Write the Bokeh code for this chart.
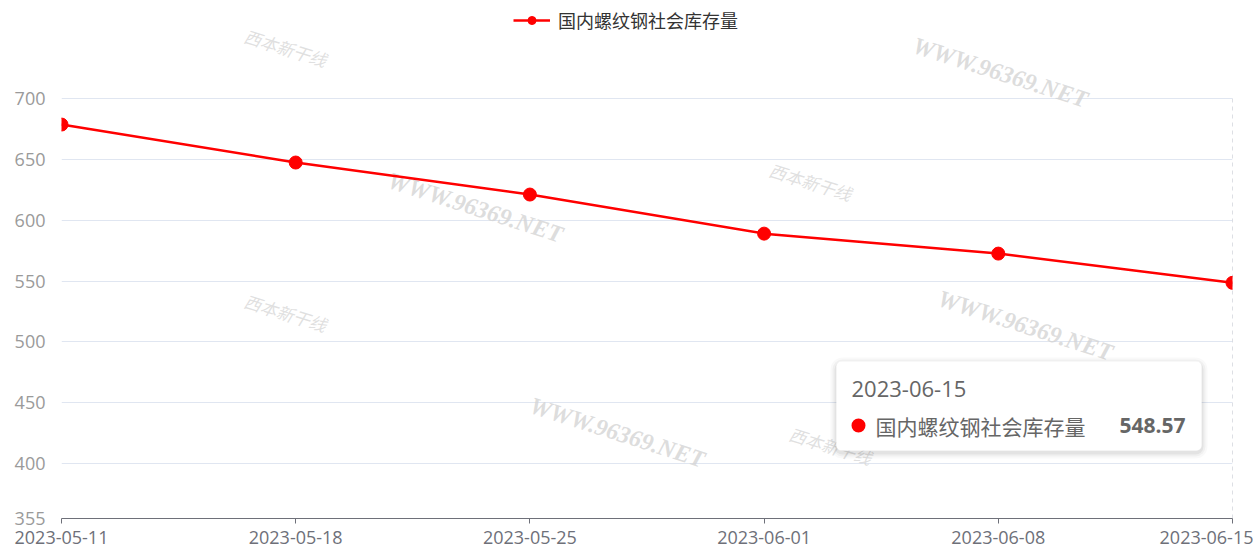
from bokeh.plotting import figure
from bokeh.models import (Range1d, FixedTicker, Legend, LegendItem,
                          BoxAnnotation, Label, ColumnDataSource)
from bokeh.embed import file_html
from bokeh.resources import INLINE

# ---- data ----
dates = ["2023-05-11", "2023-05-18", "2023-05-25", "2023-06-01", "2023-06-08", "2023-06-15"]
stock = [678.6, 647.4, 621.1, 589.0, 572.6, 548.57]
series_name = "国内螺纹钢社会库存量"
y_ticks = [355, 400, 450, 500, 550, 600, 650, 700]
tip_date = dates[-1]
tip_value = stock[-1]
watermark_url = "WWW.96369.NET"
watermark_logo = "西本新干线"

xs = list(range(len(dates)))
src = ColumnDataSource(dict(x=xs, y=stock))

# plot area: axis spans 420 px for the value span; frame extends to top of canvas
W, H = 1253, 557
grid_px = 420.0
ymin, ymax = y_ticks[0], y_ticks[-1]
bottom_border = 39
frame_h = H - bottom_border
y_end = ymin + frame_h * (ymax - ymin) / grid_px

p = figure(width=W, height=H, output_backend="svg", toolbar_location=None,
           x_range=Range1d(xs[0], xs[-1]), y_range=Range1d(ymin, y_end),
           min_border_left=61, min_border_right=21, min_border_top=0,
           min_border_bottom=bottom_border)
p.outline_line_color = None
p.background_fill_color = "white"
p.border_fill_color = "white"

# axes
xa = p.xaxis[0]
xa.ticker = FixedTicker(ticks=xs)
xa.major_label_overrides = {i: d for i, d in zip(xs, dates)}
xa.axis_line_color = "#6E7079"
xa.major_tick_line_color = "#6E7079"
xa.major_tick_out = 5
xa.major_tick_in = 0
xa.minor_tick_line_color = None
xa.major_label_text_font = "Open Sans"
xa.major_label_text_font_size = "18px"
xa.major_label_text_color = "#6E7079"
xa.major_label_standoff = 7

ya = p.yaxis[0]
ya.ticker = FixedTicker(ticks=y_ticks)
ya.axis_line_color = None
ya.major_tick_line_color = None
ya.minor_tick_line_color = None
ya.major_label_text_font = "Open Sans"
ya.major_label_text_font_size = "18px"
ya.major_label_text_color = "#9A9A9A"
ya.major_label_standoff = 10

p.xgrid.grid_line_color = None
p.ygrid.grid_line_color = "#E0E6F1"
p.ygrid.grid_line_width = 1

# watermarks (faint)
for (wx, wy) in [(939, 446), (414, 311), (964, 193), (556, 86)]:
    p.add_layout(Label(x=wx, y=wy, x_units="screen", y_units="screen", text=watermark_url,
                       text_font="Liberation Serif", text_font_style="bold italic",
                       text_font_size="24px", text_color="#D4D4D4", text_alpha=0.8,
                       text_align="center", text_baseline="middle", angle=-0.31,
                       level="underlay"))
for (wx, wy) in [(224, 471), (749, 337), (224, 206), (769, 73)]:
    p.add_layout(Label(x=wx, y=wy, x_units="screen", y_units="screen", text=watermark_logo,
                       text_font="Noto Sans CJK SC", text_font_style="italic",
                       text_font_size="17px", text_color="#D8D8D8", text_alpha=0.8,
                       text_align="center", text_baseline="middle", angle=-0.3,
                       level="underlay"))

# axis pointer (dashed vertical line at the hovered date)
p.segment(x0=[xs[-1]], y0=[ymin], x1=[xs[-1]], y1=[ymax], line_color="#BCC0CA",
          line_dash="4 4", line_width=1)

# series
ln = p.line("x", "y", source=src, line_color="#FF0000", line_width=2.5)
sc = p.scatter("x", "y", source=src, size=13, fill_color="#FF0000", line_color="#FF0000")

legend = Legend(items=[LegendItem(label=series_name, renderers=[ln, sc])],
                location=(452, 485), orientation="horizontal",
                padding=0, margin=0, spacing=0, glyph_width=37, glyph_height=20,
                label_height=20, label_standoff=8,
                label_text_font="Noto Sans CJK SC", label_text_font_size="18px",
                label_text_color="#333333", border_line_color=None,
                background_fill_alpha=0)
p.add_layout(legend, "center")

# tooltip box (static)
for i, a in enumerate([0.025, 0.035, 0.05]):
    d = 6 - 2 * i
    p.add_layout(BoxAnnotation(left=775 - d, right=1140 + d, top=157 + d - 2, bottom=68 - d - 2,
                               left_units="screen", right_units="screen",
                               top_units="screen", bottom_units="screen",
                               fill_color="black", fill_alpha=a, line_color=None,
                               border_radius=6 + d))
p.add_layout(BoxAnnotation(left=775, right=1140, top=157, bottom=68,
                           left_units="screen", right_units="screen",
                           top_units="screen", bottom_units="screen",
                           fill_color="white", fill_alpha=1.0, line_color="#FFFFFF",
                           border_radius=5))
p.add_layout(Label(x=790, y=130, x_units="screen", y_units="screen", text=tip_date,
                   text_font="Open Sans", text_font_size="22px", text_color="#666666",
                   text_baseline="middle"))
p.add_layout(Label(x=814, y=93, x_units="screen", y_units="screen", text=series_name,
                   text_font="Noto Sans CJK SC", text_font_size="21px", text_color="#666666",
                   text_baseline="middle"))
p.add_layout(Label(x=1124, y=93, x_units="screen", y_units="screen", text=f"{tip_value:.2f}",
                   text_font="Open Sans", text_font_size="21px", text_font_style="bold",
                   text_color="#666666", text_align="right", text_baseline="middle"))
p.add_layout(BoxAnnotation(left=790, right=804, top=100, bottom=86,
                           left_units="screen", right_units="screen",
                           top_units="screen", bottom_units="screen",
                           fill_color="#FF0000", fill_alpha=1.0, line_color=None,
                           border_radius=7))

open("out.html", "w").write(file_html(p, INLINE))
